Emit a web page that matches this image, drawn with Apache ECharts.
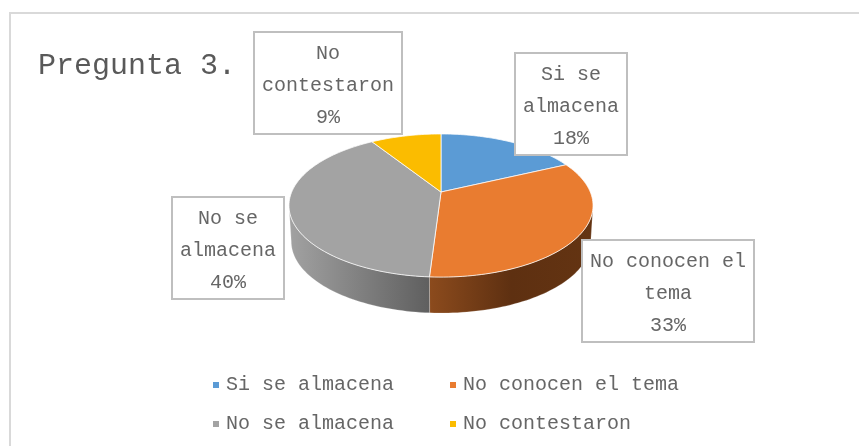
<!DOCTYPE html>
<html><head><meta charset="utf-8">
<style>html,body{margin:0;padding:0;background:#fff}#c{width:859px;height:446px}</style>
<script src="https://cdn.jsdelivr.net/npm/echarts@6/dist/echarts.min.js"></script>
</head><body><div id="c"></div>
<script>
const titleText = 'Pregunta 3.';
const categories = ['Si se almacena', 'No conocen el tema', 'No se almacena', 'No contestaron'];
const values = [18, 33, 40, 9];
const labelLines = [['Si se', 'almacena'], ['No conocen el', 'tema'], ['No se', 'almacena'], ['No', 'contestaron']];
const colors = ['#5B9BD5', '#E97C30', '#A3A3A3', '#FBBC00'];
const wallStops = [
  null,
  [[0, '#8c4b1d'], [0.5, '#5e3011'], [1, '#643412']],
  [[0, '#a2a2a2'], [1, '#5f5f5f']],
  null
];
const labelBoxes = [
  {x: 515, y: 53, w: 112, h: 102},
  {x: 582, y: 240, w: 172, h: 102},
  {x: 172, y: 197, w: 112, h: 102},
  {x: 254, y: 32, w: 148, h: 102}
];
const FONT = '"Liberation Mono", monospace';
const INK = '#666666';

// perspective disc
const pie = {cx: 441, cy: 192, a: 149.3, b: 69, k: 0.189, depth: 36, under: 0.985};
const total = values.reduce((s, v) => s + v, 0);
function project(theta, scale, dy) {
  const u = Math.sin(theta), v = -Math.cos(theta), d = 1 - pie.k * v;
  return [pie.cx + scale * pie.a * u / d, pie.cy + dy + pie.b * v / d];
}
function arc(t0, t1, scale, dy) {
  const n = Math.max(2, Math.ceil((t1 - t0) / (Math.PI / 120)));
  const pts = [];
  for (let i = 0; i <= n; i++) pts.push(project(t0 + (t1 - t0) * i / n, scale, dy));
  return pts;
}
const wallFrom = Math.acos(-pie.k), wallTo = 2 * Math.PI - wallFrom;

function makeRender(index) {
  return function (params, api) {
    const start = values.slice(0, index).reduce((s, v) => s + v, 0);
    const t0 = start / total * 2 * Math.PI;
    const t1 = (start + api.value(0)) / total * 2 * Math.PI;
    const children = [];
    const w0 = Math.max(t0, wallFrom), w1 = Math.min(t1, wallTo);
    if (w1 > w0 && wallStops[index]) {
      const top = arc(w0, w1, 1, 0);
      const bottom = arc(w0, w1, pie.under, pie.depth).reverse();
      children.push({
        type: 'polygon',
        shape: {points: top.concat(bottom)},
        style: {
          fill: new echarts.graphic.LinearGradient(0, 0, 1, 0,
            wallStops[index].map(s => ({offset: s[0], color: s[1]}))),
          stroke: 'rgba(255,255,255,0.35)', lineWidth: 0.6
        }
      });
    }
    children.push({
      type: 'polygon',
      shape: {points: [[pie.cx, pie.cy]].concat(arc(t0, t1, 1, 0))},
      style: {fill: colors[index], stroke: 'rgba(255,255,255,0.75)', lineWidth: 1}
    });
    return {type: 'group', children};
  };
}

const labelGraphics = [];
categories.forEach((c, i) => {
  const b = labelBoxes[i];
  labelGraphics.push({
    type: 'rect', z: 100,
    shape: {x: b.x, y: b.y, width: b.w, height: b.h},
    style: {fill: '#ffffff', stroke: '#bfbfbf', lineWidth: 2}
  });
  labelGraphics.push({
    type: 'text', z: 101,
    x: b.x + b.w / 2, y: b.y + b.h / 2 + 3,
    style: {
      text: labelLines[i].concat(values[i] + '%').join('\n'),
      font: '20px ' + FONT, lineHeight: 32,
      fill: INK, align: 'center', verticalAlign: 'middle'
    }
  });
});

const legendBase = {
  icon: 'rect', itemWidth: 6, itemHeight: 6, itemGap: 56, left: 208,
  selectedMode: false,
  textStyle: {fontFamily: FONT, fontSize: 20, color: INK, padding: [0, 0, 0, 2]}
};

const chart = echarts.init(document.getElementById('c'), null, {renderer: 'canvas'});
chart.setOption({
  animation: false,
  backgroundColor: '#ffffff',
  title: {
    text: titleText, left: 33, top: 46,
    textStyle: {fontFamily: FONT, fontSize: 30, fontWeight: 'normal', color: '#595959'}
  },
  legend: [
    Object.assign({}, legendBase, {top: 370, data: categories.slice(0, 2)}),
    Object.assign({}, legendBase, {top: 409, data: categories.slice(2, 4)})
  ],
  graphic: [{
    type: 'polyline', z: 1, silent: true,
    shape: {points: [[10, 446], [10, 13], [859, 13]]},
    style: {fill: null, stroke: '#d9d9d9', lineWidth: 2}
  }].concat(labelGraphics),
  series: categories.map((name, i) => ({
    type: 'custom', name, coordinateSystem: 'none', z: 5,
    itemStyle: {color: colors[i]},
    renderItem: makeRender(i),
    data: [[values[i]]]
  }))
});
</script></body></html>
